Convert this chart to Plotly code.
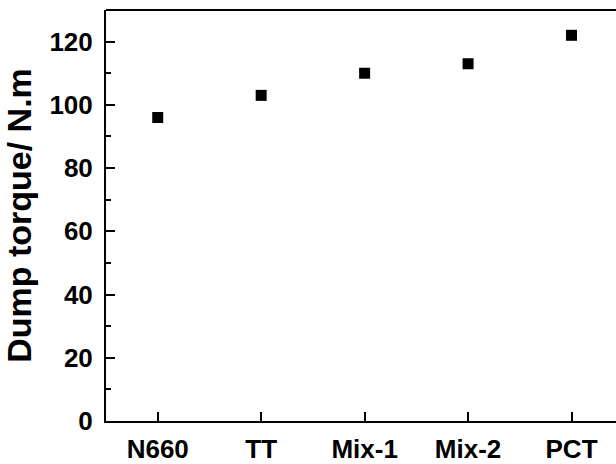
import plotly.graph_objects as go

categories = ["N660", "TT", "Mix-1", "Mix-2", "PCT"]
dump_torque = [96, 103, 110, 113, 122]
y_ticks = [0, 20, 40, 60, 80, 100, 120]

x_pos = list(range(len(categories)))

fig = go.Figure()
fig.add_trace(go.Scatter(
    x=x_pos, y=dump_torque, mode="markers",
    marker=dict(symbol="square", size=11, color="black"),
    showlegend=False,
))

font_family = "Liberation Sans, Arial, sans-serif"

fig.update_layout(
    width=616, height=464,
    margin=dict(l=106, r=0, t=10, b=35),
    plot_bgcolor="white", paper_bgcolor="white",
    font=dict(family=font_family, size=26, color="black", weight="bold"),
)
# top frame line (the right frame edge lies outside the visible area)
fig.add_shape(type="line", xref="paper", yref="paper", x0=0, x1=1, y0=1, y1=1,
              line=dict(color="black", width=2))
fig.update_xaxes(
    range=[-0.5, 4.43],
    tickvals=x_pos, ticktext=categories,
    ticks="inside", ticklen=9, tickwidth=2, tickcolor="black",
    showline=True, linewidth=2, linecolor="black", mirror=False,
    showgrid=False, zeroline=False,
    tickfont=dict(size=26, family=font_family, weight="bold"),
    ticklabelstandoff=4,
)
fig.update_yaxes(
    range=[0, 130],
    tickmode="linear", tick0=y_ticks[0], dtick=y_ticks[1] - y_ticks[0],
    ticks="inside", ticklen=9, tickwidth=2, tickcolor="black",
    minor=dict(ticks="inside", ticklen=5, tickwidth=2, tickcolor="black",
               tickmode="linear", tick0=y_ticks[0], dtick=(y_ticks[1] - y_ticks[0]) / 2,
               showgrid=False),
    showline=True, linewidth=2, linecolor="black", mirror=False,
    showgrid=False, zeroline=False,
    tickfont=dict(size=26, family=font_family, weight="bold"),
    ticklabelstandoff=6,
    title=dict(text="Dump torque/ N.m", font=dict(size=34, family=font_family, weight="bold"), standoff=8),
)

fig.write_html("out.html")
